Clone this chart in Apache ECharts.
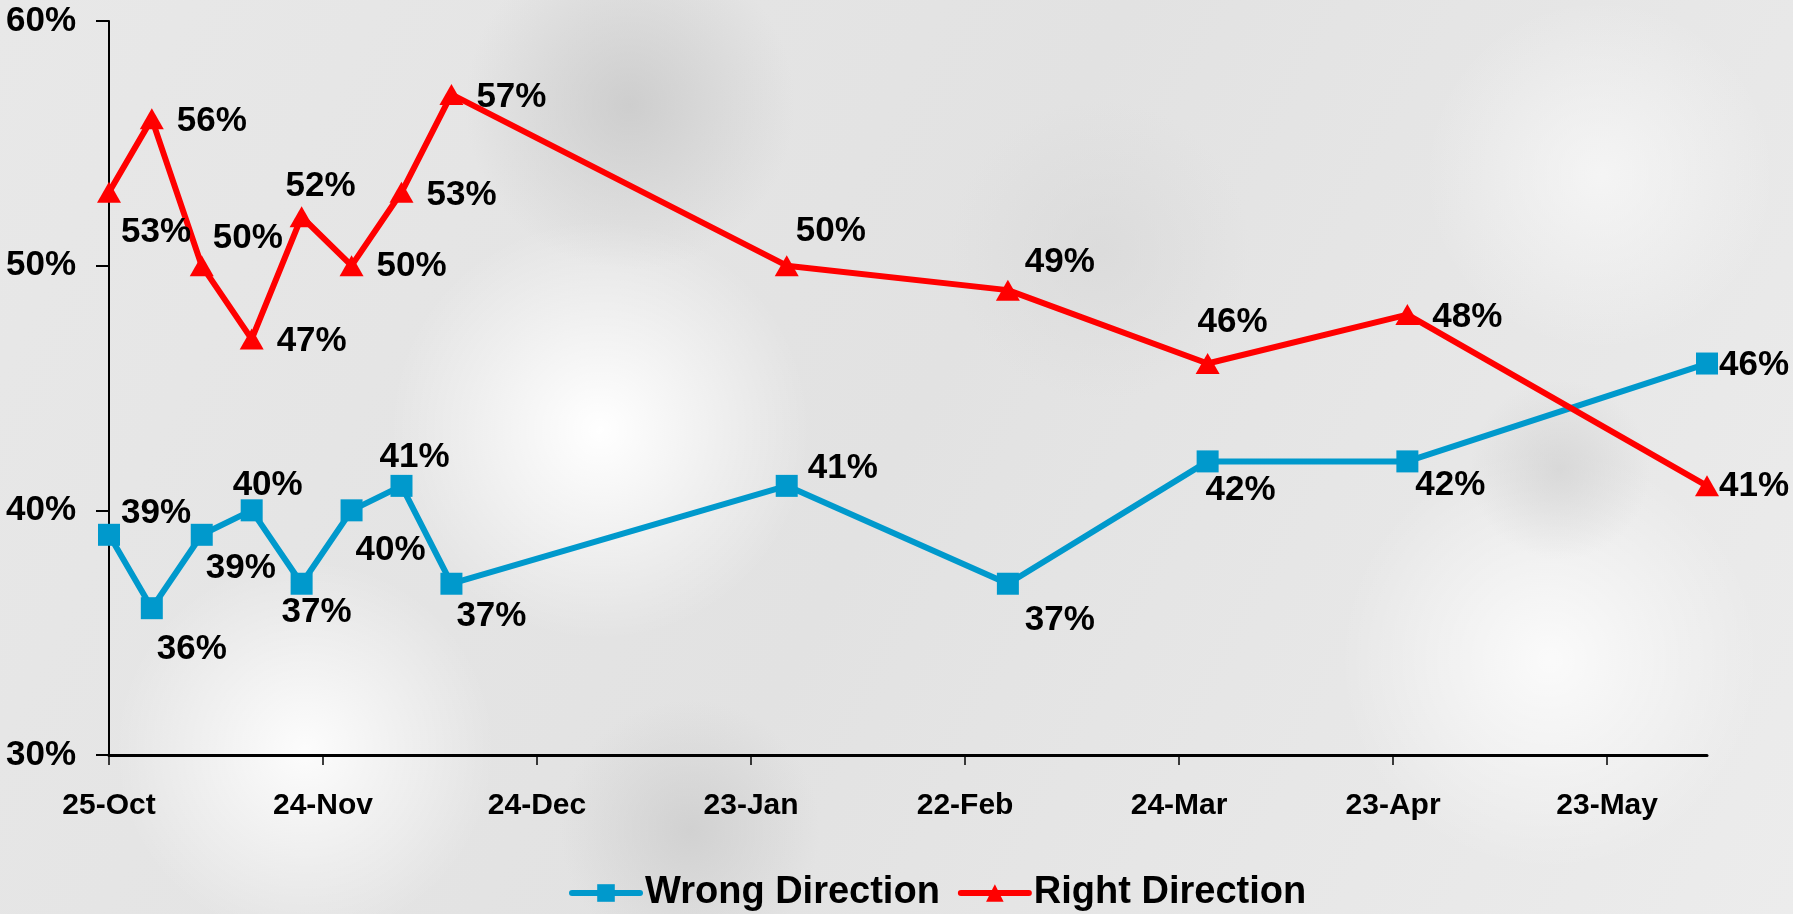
<!DOCTYPE html>
<html>
<head>
<meta charset="utf-8">
<script src="https://cdn.jsdelivr.net/npm/echarts@6/dist/echarts.min.js"></script>
<style>
html,body{margin:0;padding:0;width:1793px;height:914px;overflow:hidden;}
#chart{width:1793px;height:914px;}
</style>
</head>
<body>
<div id="chart"></div>
<script>
// Days since 25-Oct for each poll
const pollDays = [0, 6, 13, 20, 27, 34, 41, 48, 95, 126, 154, 182, 224];
const wrongDirection = [39, 36, 39, 40, 37, 40, 41, 37, 41, 37, 42, 42, 46];
const rightDirection = [53, 56, 50, 47, 52, 50, 53, 57, 50, 49, 46, 48, 41];
const tickDays = [0, 30, 60, 90, 120, 150, 180, 210];
const tickLabels = ['25-Oct', '24-Nov', '24-Dec', '23-Jan', '22-Feb', '24-Mar', '23-Apr', '23-May'];
const yTicks = [30, 40, 50, 60];

// label placement (pixel offsets of label centre from point)
const wrongLabelOffsets = [[47,-21],[40,41],[39,34],[16,-25],[15,29],[39,40],[13,-29],[40,33],[56,-18],[52,37],[33,29],[43,24],[47,2]];
const rightLabelOffsets = [[47,40],[60,2],[46,-27],[60,2],[19,-30],[60,1],[60,3],[60,3],[44,-34],[52,-28],[25,-41],[60,3],[47,0]];

const FONT = '"Liberation Sans", Arial, sans-serif';

function buildData(values, offsets) {
  return values.map((v, i) => ({
    value: [pollDays[i], v],
    label: { offset: offsets[i] }
  }));
}

function blob(x, y, w, h, color, alpha) {
  return {
    type: 'rect', silent: true, z: -10,
    shape: { x: x, y: y, width: w, height: h },
    style: {
      fill: {
        type: 'radial', x: 0.5, y: 0.5, r: 0.5,
        colorStops: [
          { offset: 0, color: 'rgba(' + color + ',' + alpha + ')' },
          { offset: 1, color: 'rgba(' + color + ',0)' }
        ]
      }
    }
  };
}

const chart = echarts.init(document.getElementById('chart'));
chart.setOption({
  animation: false,
  backgroundColor: {
    type: 'linear', x: 0, y: 0, x2: 1, y2: 1,
    colorStops: [
      { offset: 0, color: '#e8e8e8' },
      { offset: 0.5, color: '#e2e2e2' },
      { offset: 1, color: '#ececec' }
    ]
  },
  graphic: [
    blob(300, 220, 600, 420, '255,255,255', 1),
    blob(80, 560, 450, 380, '255,255,255', 0.9),
    blob(1250, 450, 600, 420, '255,255,255', 0.8),
    blob(1350, 0, 500, 350, '250,250,250', 0.7),
    blob(380, -60, 500, 330, '200,200,200', 0.8),
    blob(480, 700, 420, 260, '205,205,205', 0.8),
    blob(1300, 380, 520, 180, '205,205,205', 0.6),
    blob(900, 100, 400, 300, '215,215,215', 0.6)
  ],
  grid: { left: 109, right: 86, top: 21, bottom: 159 },
  legend: {
    left: 564, top: 869,
    itemWidth: 68, itemHeight: 22, itemGap: 18,
    lineStyle: { width: 6, cap: 'round' },
    textStyle: { fontFamily: FONT, fontWeight: 'bold', fontSize: 38, color: '#000' },
    data: ['Wrong Direction', 'Right Direction']
  },
  xAxis: {
    type: 'value', min: 0, max: 224, interval: 30,
    axisLine: { show: true, lineStyle: { color: '#000', width: 3 } },
    axisTick: { show: true, length: 10, customValues: tickDays, lineStyle: { color: '#000', width: 1.5 } },
    axisLabel: {
      customValues: tickDays,
      margin: 36,
      fontFamily: FONT, fontWeight: 'bold', fontSize: 30, color: '#000',
      formatter: function (v) { const i = tickDays.indexOf(v); return i >= 0 ? tickLabels[i] : ''; }
    },
    splitLine: { show: false }
  },
  yAxis: {
    type: 'value', min: 30, max: 60, interval: 10,
    axisLine: { show: true, lineStyle: { color: '#000', width: 2 } },
    axisTick: { show: true, length: 13, customValues: yTicks, lineStyle: { color: '#000', width: 2 } },
    axisLabel: {
      customValues: yTicks,
      margin: 33,
      fontFamily: FONT, fontWeight: 'bold', fontSize: 35, color: '#000',
      formatter: '{value}%'
    },
    splitLine: { show: false }
  },
  series: [
    {
      name: 'Wrong Direction', type: 'line',
      data: buildData(wrongDirection, wrongLabelOffsets),
      symbol: 'rect', symbolSize: 22,
      lineStyle: { color: '#0099CC', width: 6 },
      itemStyle: { color: '#0099CC' },
      label: {
        show: true, position: 'inside',
        fontFamily: FONT, fontWeight: 'bold', fontSize: 35, color: '#000',
        formatter: function (p) { return p.value[1] + '%'; }
      },
      z: 2
    },
    {
      name: 'Right Direction', type: 'line',
      data: buildData(rightDirection, rightLabelOffsets),
      symbol: 'triangle', symbolSize: [24, 21],
      lineStyle: { color: '#FF0000', width: 6 },
      itemStyle: { color: '#FF0000' },
      label: {
        show: true, position: 'inside',
        fontFamily: FONT, fontWeight: 'bold', fontSize: 35, color: '#000',
        formatter: function (p) { return p.value[1] + '%'; }
      },
      z: 3
    }
  ]
});
</script>
</body>
</html>
